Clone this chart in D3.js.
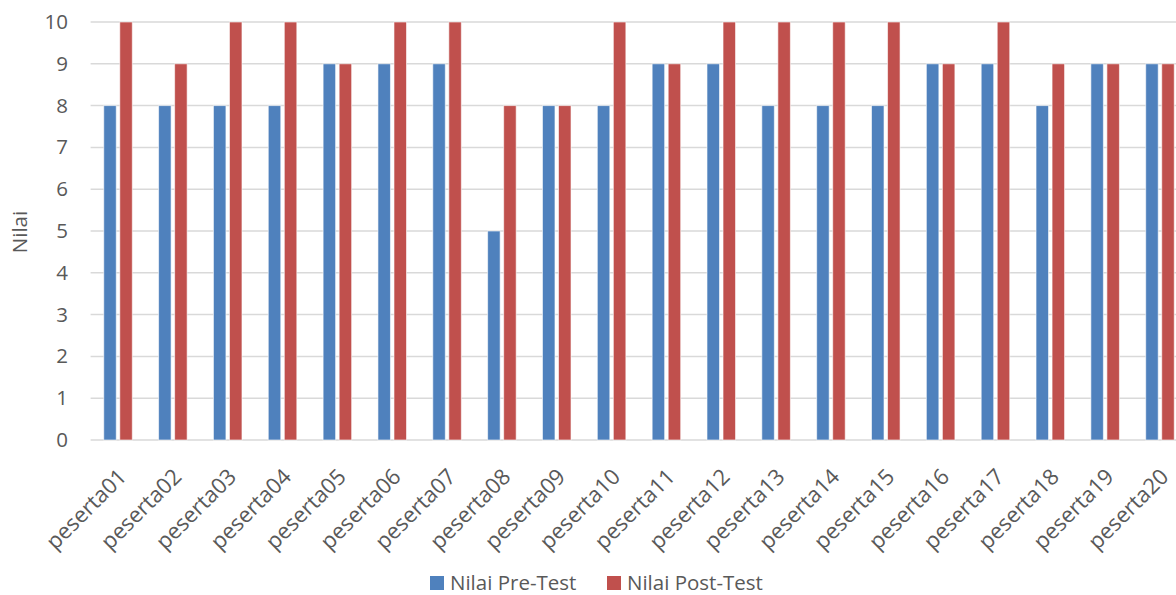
<!DOCTYPE html>
<html>
<head>
<meta charset="utf-8">
<script src="https://cdn.jsdelivr.net/npm/d3@7"></script>
<style>
    body { margin: 0; background: #fff; }
    text { font-family: "Open Sans", Lato, sans-serif; fill: #595959; }
</style>
</head>
<body>
<div id="chart"></div>
<script>

// data
let categories = ["peserta01","peserta02","peserta03","peserta04","peserta05","peserta06","peserta07","peserta08","peserta09","peserta10",
    "peserta11","peserta12","peserta13","peserta14","peserta15","peserta16","peserta17","peserta18","peserta19","peserta20"];
let preTest  = [8,8,8,8,9,9,9,5,8,8,9,9,8,8,8,9,9,8,9,9];
let postTest = [10,9,10,10,9,10,10,8,8,10,9,10,10,10,10,9,10,9,9,9];
let seriesNames = ["Nilai Pre-Test", "Nilai Post-Test"];
let yTicks = [0,1,2,3,4,5,6,7,8,9,10];

let colors = ["#4F81BD", "#C0504D"];

let width = 1176, height = 595;
let plotLeft = 90.6, plotRight = 1187.4;
let plotTop = 22, plotBottom = 440;

let svg = d3.select("#chart").append("svg")
    .attr("width", width)
    .attr("height", height);

let x = d3.scaleBand()
    .domain(categories)
    .range([plotLeft, plotRight]);

let y = d3.scaleLinear()
    .domain([0, 10])
    .range([plotBottom, plotTop]);

// gridlines
svg.append("g")
    .selectAll("line")
    .data(yTicks)
    .enter()
    .append("line")
    .attr("x1", plotLeft)
    .attr("x2", plotRight)
    .attr("y1", d => y(d))
    .attr("y2", d => y(d))
    .attr("stroke", "#d9d9d9")
    .attr("stroke-width", 1.5);

// y axis labels
let yAxis = d3.axisLeft(y).tickValues(yTicks).tickSize(0).tickPadding(0);
let yG = svg.append("g")
    .attr("transform", "translate(68,0)")
    .call(yAxis);
yG.select(".domain").remove();
yG.selectAll("text")
    .style("font-size", "20.5px")
    .style("font-family", "'Open Sans', Lato, sans-serif")
    .attr("fill", "#595959");

// y title
svg.append("text")
    .attr("transform", "translate(27,232) rotate(-90)")
    .attr("text-anchor", "middle")
    .style("font-size", "20.5px")
    .text("Nilai");

// bars
let xSub = d3.scaleBand()
    .domain([0, 1])
    .range([0, x.bandwidth()])
    .paddingInner(0.22)
    .paddingOuter(0.82);

let rows = categories.map((c, i) => ({cat: c, values: [preTest[i], postTest[i]]}));

let groups = svg.append("g")
    .selectAll("g")
    .data(rows)
    .enter()
    .append("g")
    .attr("transform", d => `translate(${x(d.cat)},0)`);

groups.selectAll("rect")
    .data(d => d.values.map((v, k) => ({k: k, v: v})))
    .enter()
    .append("rect")
    .attr("x", d => xSub(d.k))
    .attr("width", xSub.bandwidth())
    .attr("y", d => y(d.v))
    .attr("height", d => y(0) - y(d.v))
    .attr("fill", d => colors[d.k])
    .attr("stroke", "#ffffff")
    .attr("stroke-opacity", 0.6)
    .attr("stroke-width", 1);

// x axis labels
svg.append("g")
    .selectAll("text")
    .data(categories)
    .enter()
    .append("text")
    .attr("transform", d => `translate(${x(d) + x.bandwidth() / 2 + 10},${478}) rotate(-45)`)
    .attr("text-anchor", "end")
    .style("font-size", "22px")
    .text(d => d);

// legend
let legendX = [430, 607];
let legend = svg.append("g")
    .selectAll("g")
    .data(seriesNames)
    .enter()
    .append("g")
    .attr("transform", (d, i) => `translate(${legendX[i]},576)`);

legend.append("rect")
    .attr("width", 14)
    .attr("height", 14)
    .attr("fill", (d, i) => colors[i]);

legend.append("text")
    .attr("x", 20)
    .attr("y", 14)
    .style("font-size", "20.5px")
    .text(d => d);

</script>
</body>
</html>
